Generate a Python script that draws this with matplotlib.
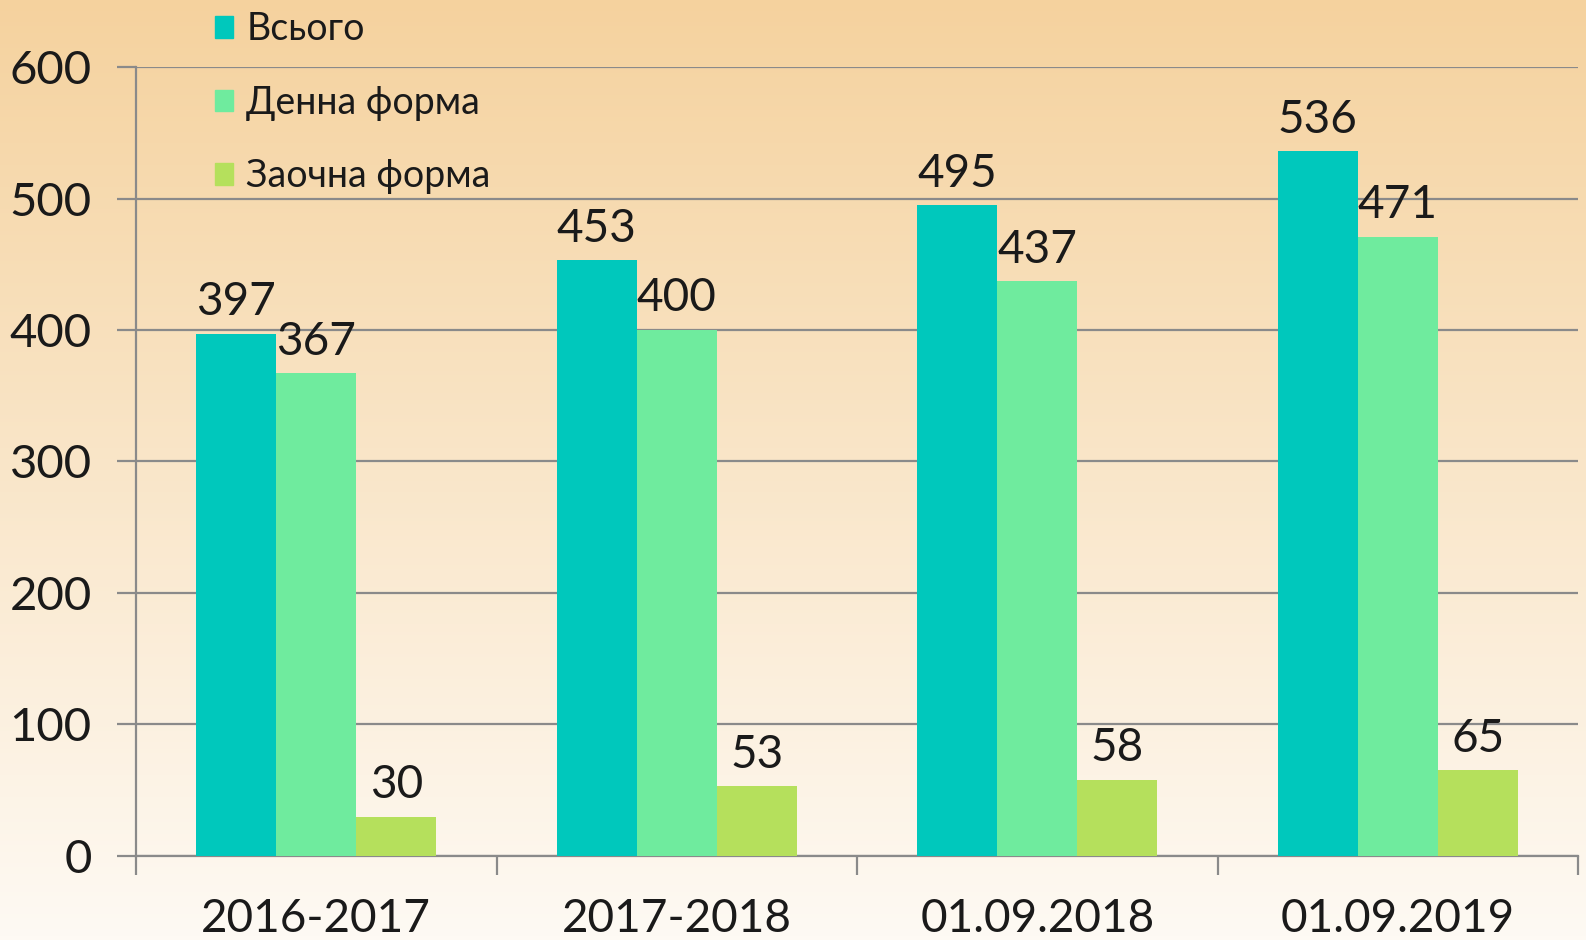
import numpy as np
import matplotlib.pyplot as plt
from matplotlib.patches import Patch

# data
categories = ['2016-2017', '2017-2018', '01.09.2018', '01.09.2019']
series_names = ['Всього', 'Денна форма', 'Заочна форма']
total = [397, 453, 495, 536]
full_time = [367, 400, 437, 471]
part_time = [30, 53, 58, 65]

colors = ['#00C8BC', '#6FEB9E', '#B5E05C']
plt.rcParams['font.family'] = ['Lato', 'DejaVu Sans']

fig = plt.figure(figsize=(15.86, 9.4), dpi=100)

# background gradient, orange at the top fading to almost white
bg = fig.add_axes([0, 0, 1, 1], zorder=-10)
top = np.array([245, 210, 158]) / 255
bottom = np.array([254, 250, 244]) / 255
t = np.linspace(0, 1, 256)[:, None]
grad = top * (1 - t) + bottom * t
bg.imshow(grad[:, None, :].repeat(2, axis=1), aspect='auto', extent=[0, 1, 0, 1])
bg.axis('off')

ax = fig.add_axes([0.0858, 0.0894, 0.9092, 0.8393])
ax.patch.set_alpha(0)

x = np.arange(len(categories))
w = 0.222
data = [total, full_time, part_time]
for i, vals in enumerate(data):
    pos = x + (i - 1) * w
    ax.bar(pos, vals, w, color=colors[i], zorder=3)
    for p, v in zip(pos, vals):
        ax.text(p, v + 8, str(v), ha='center', va='bottom', fontsize=33,
                color='#1a1a1a', zorder=4)

ax.set_xlim(-0.5, len(categories) - 0.5)
ax.set_ylim(0, 600)
ax.set_yticks(range(0, 601, 100))
ax.yaxis.grid(True, color='#8a8a8a', lw=1.6, zorder=0)
ax.set_axisbelow(True)

ax.set_xticks(x)
ax.set_xticklabels(categories)
ax.set_xticks(np.arange(-0.5, len(categories)), minor=True)
ax.tick_params(axis='x', which='major', length=0, pad=30, labelsize=33, labelcolor='#1a1a1a')
ax.tick_params(axis='x', which='minor', length=14, width=1.6, color='#8a8a8a')
ax.tick_params(axis='y', length=14, width=1.6, color='#8a8a8a', pad=18,
               labelsize=34, labelcolor='#1a1a1a')

for s in ['top', 'right']:
    ax.spines[s].set_visible(False)
for s in ['left', 'bottom']:
    ax.spines[s].set_color('#8a8a8a')
    ax.spines[s].set_linewidth(1.6)

handles = [Patch(color=c) for c in colors]
fig.legend(handles, series_names, loc='upper left', bbox_to_anchor=(0.114, 1.024),
           frameon=False, fontsize=27, handlelength=0.5, handleheight=0.5,
           handletextpad=0.35, labelspacing=1.0, labelcolor='#1a1a1a')

fig.savefig('out.png', dpi=100)
